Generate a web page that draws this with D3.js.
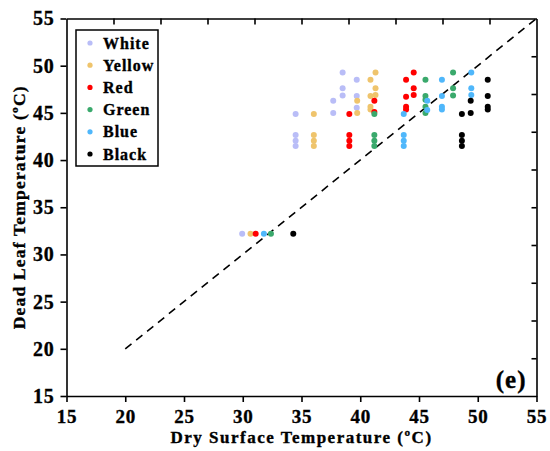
<!DOCTYPE html>
<html><head><meta charset="utf-8">
<script src="https://cdn.jsdelivr.net/npm/d3@7"></script>
<style>
body{margin:0;background:#fff;}
svg text{font-family:"Liberation Serif","Times New Roman",serif;font-weight:bold;fill:#000;stroke:#000;stroke-width:0.35px;}
</style></head>
<body><svg id="c" width="550" height="451"></svg>
<script>
const seriesNames = ["White","Yellow","Red","Green","Blue","Black"];
const seriesColors = ["#b9bdf7","#efc46c","#ff0000","#3aa96c","#4fb7fb","#000000"];
const whiteX  = [29.95,34.5,34.5,34.5,34.5,37.7,37.7,38.5,38.5,38.5,39.7,39.7,39.7];
const whiteY  = [32.2,44.87,42.65,42.05,41.48,46.28,45.0,49.27,47.6,46.85,48.5,46.8,45.55];
const yellowX = [30.66,36.05,36.05,36.05,36.05,39.74,39.74,40.87,40.87,40.87,40.87,41.3,41.3,41.3];
const yellowY = [32.2,44.87,42.65,42.05,41.48,46.28,45.0,48.5,46.8,45.65,45.37,49.27,47.6,46.9];
const redX    = [31.1,39.07,39.07,39.07,39.07,41.2,41.2,43.9,43.9,43.9,43.9,44.55,44.55,44.55];
const redY    = [32.2,44.87,42.65,42.05,41.48,46.28,45.1,48.5,46.7,45.65,45.37,49.27,47.6,46.9];
const greenX  = [32.4,41.2,41.2,41.2,41.2,45.55,45.55,45.55,45.55,45.55,47.9,47.9,47.9];
const greenY  = [32.2,44.87,42.65,42.05,41.48,48.5,46.8,46.38,45.65,45.0,49.27,47.6,46.85];
const blueX   = [31.8,43.7,43.7,43.7,43.7,45.7,45.7,46.95,46.95,46.95,46.95,49.45,49.45,49.45];
const blueY   = [32.2,44.87,42.65,42.05,41.48,46.28,45.3,48.5,46.8,45.65,45.37,49.27,47.6,46.9];
const blackX  = [34.3,48.65,48.65,48.65,48.65,49.4,49.4,50.85,50.85,50.85,50.85];
const blackY  = [32.2,44.87,42.65,42.05,41.48,46.28,45.0,48.5,46.8,45.65,45.37];
const seriesX = [whiteX,yellowX,redX,greenX,blueX,blackX];
const seriesY = [whiteY,yellowY,redY,greenY,blueY,blackY];
const axisTicks = [15,20,25,30,35,40,45,50,55];
const mirrorTicks = [19,23,27,31,35,39,43,47,51];
const lineX = [20,55], lineY = [20,55];
const xTitle = "Dry Surface Temperature (\u00BAC)";
const yTitle = "Dead Leaf Temperature (\u00BAC)";
const panelLabel = "(e)";

const svg = d3.select("#c");
const L=66.5, R=536.5, T=18.5, B=396;
const x = d3.scaleLinear().domain([15,55]).range([L,R]);
const y = d3.scaleLinear().domain([15,55]).range([B,T]);

// dashed 1:1 line
svg.append("path")
  .attr("d", d3.line().x(d=>x(d[0])).y(d=>y(d[1]))(lineX.map((v,i)=>[v,lineY[i]])))
  .attr("stroke","#000").attr("stroke-width",1.6).attr("stroke-dasharray","8,6").attr("fill","none");

// points
seriesNames.forEach((n,i)=>{
  svg.append("g").selectAll("circle").data(seriesX[i].map((v,j)=>[v,seriesY[i][j]]))
    .join("circle").attr("cx",d=>x(d[0])).attr("cy",d=>y(d[1])).attr("r",3)
    .attr("fill",seriesColors[i]);
});

// axes
const fmtAxis = g=>{g.select(".domain").attr("stroke","#000").attr("stroke-width",1.6);
  g.selectAll(".tick line").attr("stroke","#000").attr("stroke-width",1.6);};
const bx = svg.append("g").attr("transform",`translate(0,${B})`)
  .call(d3.axisBottom(x).tickValues(axisTicks).tickSize(6).tickPadding(8).tickSizeOuter(0)).call(fmtAxis);
bx.selectAll(".tick text").attr("font-size",19).attr("letter-spacing","0.8px");
const ly = svg.append("g").attr("transform",`translate(${L},0)`)
  .call(d3.axisLeft(y).tickValues(axisTicks).tickSize(6).tickPadding(6).tickSizeOuter(0)).call(fmtAxis);
ly.selectAll(".tick text").attr("font-size",20).attr("letter-spacing","0.8px");
svg.append("g").attr("transform",`translate(0,${T})`)
  .call(d3.axisBottom(x).tickValues(mirrorTicks).tickSize(6).tickFormat("").tickSizeOuter(0)).call(fmtAxis);
svg.append("g").attr("transform",`translate(${R},0)`)
  .call(d3.axisLeft(y).tickValues(mirrorTicks).tickSize(5).tickFormat("").tickSizeOuter(0)).call(fmtAxis);

// titles
svg.append("text").attr("x",(L+R)/2).attr("y",443).attr("text-anchor","middle")
  .attr("font-size",17).attr("letter-spacing","1.5px").text(xTitle);
svg.append("text").attr("transform",`translate(25,${(T+B)/2}) rotate(-90)`).attr("text-anchor","middle")
  .attr("font-size",17.5).attr("letter-spacing","1.2px").text(yTitle);
svg.append("text").attr("x",R-10).attr("y",B-8).attr("text-anchor","end")
  .attr("font-size",25).attr("letter-spacing","1px").text(panelLabel);

// legend
const lg = svg.append("g").attr("transform","translate(76,30)");
lg.append("rect").attr("width",82).attr("height",136).attr("fill","#fff").attr("stroke","#000").attr("stroke-width",1.5);
seriesNames.forEach((n,i)=>{
  const cy = 13 + i*22.2;
  lg.append("circle").attr("cx",14).attr("cy",cy).attr("r",2.6).attr("fill",seriesColors[i]);
  lg.append("text").attr("x",27).attr("y",cy+5.5).attr("font-size",16).attr("letter-spacing","1px").text(n);
});
</script></body></html>
